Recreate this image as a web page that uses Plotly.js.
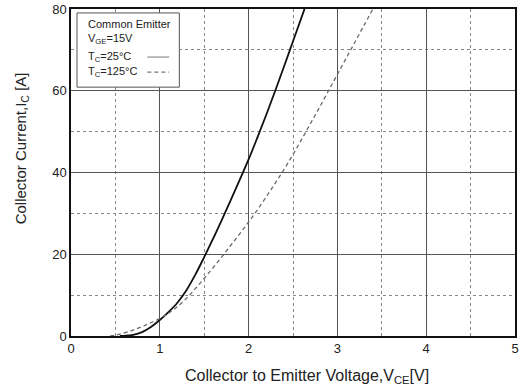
<!DOCTYPE html>
<html>
<head>
<meta charset="utf-8">
<script src="https://cdn.plot.ly/plotly-3.0.1.min.js"></script>
<style>html,body{margin:0;padding:0;background:#fff;}#chart{width:527px;height:390px;}</style>
</head>
<body>
<div id="chart"></div>
<script>
// Tc = 25°C (solid)
const vce25 = [0.55, 0.6, 0.7, 0.8, 0.9, 1.0, 1.1, 1.2, 1.3, 1.4, 1.5, 1.6, 1.7, 1.8, 1.9, 2.0, 2.1, 2.2, 2.3, 2.4, 2.5, 2.6, 2.63];
const ic25  = [0, 0.05, 0.3, 0.95, 2.2, 3.9, 5.9, 8.2, 11.2, 15.0, 19.3, 23.8, 28.5, 33.3, 38.2, 43.2, 48.6, 54.2, 60.0, 66.0, 72.1, 78.2, 80];
// Tc = 125°C (dashed)
const vce125 = [0.44, 0.5, 0.6, 0.7, 0.8, 0.9, 1.0, 1.1, 1.2, 1.3, 1.4, 1.5, 1.6, 1.7, 1.8, 1.9, 2.0, 2.1, 2.2, 2.3, 2.4, 2.5, 2.6, 2.7, 2.8, 2.9, 3.0, 3.1, 3.2, 3.3, 3.4];
const ic125  = [0, 0.2, 0.75, 1.45, 2.3, 3.25, 4.3, 5.6, 7.2, 9.2, 11.6, 14.1, 16.7, 19.4, 22.2, 25.0, 27.9, 30.9, 34.1, 37.4, 40.8, 44.4, 48.2, 52.1, 56.0, 60.0, 64.0, 68.0, 72.0, 76.0, 80.0];

const xTicks = [0, 1, 2, 3, 4, 5];
const yTicks = [0, 20, 40, 60, 80];
const legendLines = ["Common Emitter", "V<sub>GE</sub>=15V", "T<sub>C</sub>=25°C", "T<sub>C</sub>=125°C"];
const xTitle = 'Collector to Emitter Voltage,V<sub>CE</sub>[V]';
const yTitle = 'Collector Current,I<sub>C</sub> [A]';

const traces = [
  {x: vce25, y: ic25, mode: 'lines', line: {color: '#111', width: 1.8, shape: 'spline', smoothing: 1}, showlegend: false},
  {x: vce125, y: ic125, mode: 'lines', line: {color: '#6a6a6a', width: 1.3, dash: '4px,3px', shape: 'spline', smoothing: 1}, showlegend: false}
];

const font = {family: 'Liberation Sans, Arial, sans-serif', color: '#222'};
const textY = [0.954, 0.908, 0.853, 0.807];
const annotations = legendLines.map((t, i) => ({
  xref: 'paper', yref: 'paper', x: 0.034, y: textY[i], xanchor: 'left', yanchor: 'middle',
  text: t, showarrow: false, font: Object.assign({size: 11}, font)
}));
annotations.push({
  xref: 'paper', yref: 'paper', x: 0.532, y: -0.125, xanchor: 'center', yanchor: 'middle',
  text: xTitle, showarrow: false, font: Object.assign({size: 16}, font)
});
annotations.push({
  xref: 'paper', yref: 'paper', x: -0.111, y: 0.573, xanchor: 'center', yanchor: 'middle',
  text: yTitle, textangle: -90, showarrow: false, font: Object.assign({size: 15}, font)
});

const shapes = [
  {type: 'rect', xref: 'paper', yref: 'paper', x0: 0.0135, x1: 0.244, y0: 0.761, y1: 0.988,
   line: {color: '#555', width: 1}, fillcolor: 'rgba(255,255,255,1)', layer: 'above'},
  {type: 'line', xref: 'paper', yref: 'paper', x0: 0.172, x1: 0.221, y0: textY[2], y1: textY[2],
   line: {color: '#777', width: 1}, layer: 'above'},
  {type: 'line', xref: 'paper', yref: 'paper', x0: 0.172, x1: 0.221, y0: textY[3], y1: textY[3],
   line: {color: '#777', width: 1.2, dash: '4px,3px'}, layer: 'above'}
];

const layout = {
  width: 527, height: 390,
  margin: {l: 71, r: 12, t: 9, b: 54},
  paper_bgcolor: '#fff', plot_bgcolor: '#fff',
  showlegend: false,
  xaxis: {
    range: [0, 5], tickvals: xTicks, ticktext: xTicks.map(String),
    showgrid: true, gridcolor: '#555', gridwidth: 1.3,
    minor: {dtick: 0.5, showgrid: true, gridcolor: '#888', griddash: 'dot', gridwidth: 1},
    showline: true, mirror: true, linecolor: '#111', linewidth: 1.6,
    zeroline: false, ticks: '',
    tickfont: Object.assign({size: 13}, font)
  },
  yaxis: {
    range: [0, 80], tickvals: yTicks, ticktext: yTicks.map(String),
    showgrid: true, gridcolor: '#555', gridwidth: 1.3,
    minor: {dtick: 10, showgrid: true, gridcolor: '#888', griddash: 'dot', gridwidth: 1},
    showline: true, mirror: true, linecolor: '#111', linewidth: 1.6,
    zeroline: false, ticks: '',
    tickfont: Object.assign({size: 13}, font)
  },
  annotations: annotations,
  shapes: shapes
};

Plotly.newPlot('chart', traces, layout, {displayModeBar: false, staticPlot: true});
</script>
</body>
</html>
